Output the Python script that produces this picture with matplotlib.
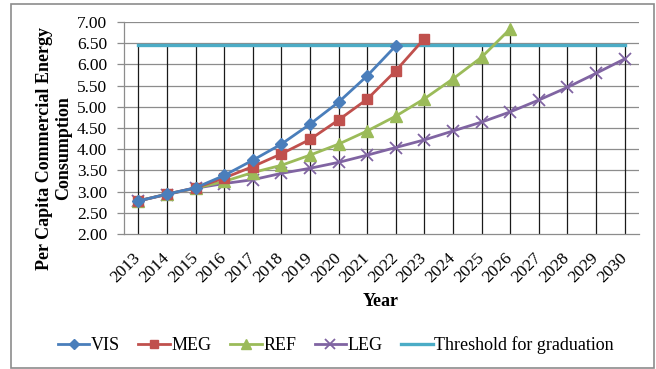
import numpy as np
import matplotlib
matplotlib.use("Agg")
import matplotlib.pyplot as plt
from matplotlib.patches import Rectangle

plt.rcParams['font.family'] = ['Liberation Serif', 'DejaVu Serif']

years = list(range(2013, 2031))
vis = [2.78, 2.94, 3.09, 3.38, 3.74, 4.12, 4.59, 5.11, 5.73, 6.44]
meg = [2.78, 2.94, 3.09, 3.32, 3.59, 3.89, 4.23, 4.69, 5.18, 5.85, 6.61]
ref = [2.78, 2.94, 3.08, 3.24, 3.45, 3.62, 3.86, 4.12, 4.43, 4.78, 5.19, 5.66, 6.17, 6.84]
leg = [2.78, 2.93, 3.08, 3.19, 3.28, 3.43, 3.55, 3.69, 3.86, 4.04, 4.22, 4.43, 4.64, 4.88, 5.16, 5.46, 5.79, 6.13]
threshold = [6.46] * len(years)

fig = plt.figure(figsize=(6.56, 3.69), dpi=100)
ax = fig.add_axes([124 / 656, 1 - 234 / 369, 515 / 656, 212 / 369])

x = np.arange(len(years))

# drop lines from the highest series value down to the axis
all_series = [vis, meg, ref, leg, threshold]
tops = [max(s[i] for s in all_series if i < len(s)) for i in x]
ax.vlines(x, 2.0, tops, color='#1a1a1a', lw=0.9, zorder=1)

for yv in np.arange(2.5, 7.01, 0.5):
    ax.axhline(yv, color='#8c8c8c', lw=0.9, zorder=0)

ax.plot(x, threshold, color='#4BACC6', lw=2.4, zorder=2, label='Threshold for graduation')
ax.plot(x[:len(leg)], leg, color='#8064A2', lw=2.0, marker='x', ms=8, mew=1.3, zorder=3, label='LEG')
ax.plot(x[:len(ref)], ref, color='#9BBB59', lw=2.0, marker='^', ms=8.5, zorder=4, label='REF')
ax.plot(x[:len(meg)], meg, color='#C0504D', lw=2.0, marker='s', ms=7.5, zorder=5, label='MEG')
ax.plot(x[:len(vis)], vis, color='#4A7EBB', lw=2.0, marker='D', ms=6, zorder=6, label='VIS')

ax.set_xlim(-0.5, len(years) - 0.5)
ax.set_ylim(2.0, 7.0)
ax.set_yticks(np.arange(2.0, 7.01, 0.5))
ax.set_yticklabels([f"{v:.2f}" for v in np.arange(2.0, 7.01, 0.5)], fontsize=12.5)
ax.set_xticks(x)
ax.set_xticklabels([str(y) for y in years], fontsize=12.5, rotation=45,
                   ha='right', va='center', rotation_mode='anchor')
ax.tick_params(axis='x', length=0, pad=15.5)
ax.tick_params(axis='y', length=5, color='#8c8c8c', width=0.9, pad=7)

for s in ['top', 'right']:
    ax.spines[s].set_visible(False)
for s in ['left', 'bottom']:
    ax.spines[s].set_color('#8c8c8c')
    ax.spines[s].set_linewidth(0.9)

fig.text(381 / 656, 1 - 302 / 369, 'Year', fontsize=13, fontweight='bold',
         ha='center', va='center')
fig.text(54 / 656, 1 - 148 / 369, 'Per Capita Commercial Energy\nConsumption',
         fontsize=13, fontweight='bold', rotation=90, ha='center', va='center',
         multialignment='center', linespacing=1.15)

handles, labels = ax.get_legend_handles_labels()
order = [4, 3, 2, 1, 0]
fig.legend([handles[i] for i in order], [labels[i] for i in order],
           loc='center', bbox_to_anchor=(336 / 656, 1 - 345 / 369), ncol=5,
           frameon=False, fontsize=13, handlelength=1.75, handletextpad=0.1,
           columnspacing=1.0, borderpad=0.2, markerscale=0.85)

fig.patches.append(Rectangle((11 / 656, 0.003), 643 / 656, 1 - 4 / 369 - 0.003,
                             transform=fig.transFigure, fill=False,
                             edgecolor='#8c8c8c', lw=1.2))

fig.savefig('out.png', dpi=100)
